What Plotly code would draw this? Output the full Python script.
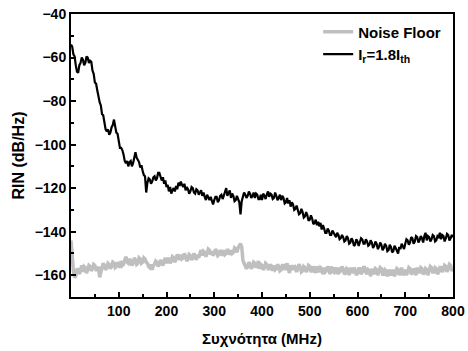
import plotly.graph_objects as go

# frequency grid, MHz (2.5 MHz spacing, 0..800)
freq = [i * 2.5 for i in range(321)]

rin_laser = [
    -54.0, -55.0, -58.5, -59.5, -63.5, -66.5, -67.0, -63.5, -62.5, -60.0,
    -61.0, -63.5, -62.5, -59.5, -60.0, -62.5, -61.5, -62.0, -66.0, -67.5,
    -71.5, -72.0, -75.0, -78.5, -80.5, -82.0, -86.0, -86.5, -89.5, -93.0,
    -94.0, -93.0, -95.5, -94.5, -92.0, -91.0, -88.5, -92.5, -94.5, -95.0,
    -98.0, -101.5, -101.5, -102.5, -104.5, -107.5, -108.5, -107.5, -110.0, -108.0,
    -107.5, -110.0, -108.5, -105.0, -103.5, -106.0, -107.0, -108.0, -110.5, -109.5,
    -112.0, -114.0, -114.5, -122.0, -117.5, -115.5, -116.0, -118.0, -117.0, -115.0,
    -114.5, -116.5, -115.5, -113.0, -113.0, -115.5, -116.5, -115.0, -118.0, -116.5,
    -119.5, -118.5, -121.5, -119.5, -122.5, -121.0, -120.0, -121.5, -119.0, -120.5,
    -117.5, -119.0, -117.0, -118.5, -119.5, -118.0, -121.0, -119.5, -120.5, -122.5,
    -121.5, -119.5, -120.0, -122.0, -122.5, -120.5, -121.0, -123.0, -122.0, -121.0,
    -123.5, -122.0, -124.0, -125.5, -123.0, -124.5, -125.5, -124.0, -126.5, -127.5,
    -125.5, -124.0, -124.0, -126.5, -125.5, -123.5, -123.0, -125.0, -123.5, -122.0,
    -120.0, -123.5, -122.5, -121.0, -124.5, -122.5, -123.5, -126.0, -125.5, -123.5,
    -125.0, -126.5, -132.0, -126.0, -124.0, -122.0, -123.0, -124.5, -123.5, -121.5,
    -122.5, -124.5, -123.5, -122.0, -124.5, -122.5, -123.0, -125.0, -125.0, -123.0,
    -125.5, -122.5, -123.5, -125.0, -123.0, -121.5, -124.0, -122.5, -123.0, -125.0,
    -124.5, -122.0, -123.5, -125.5, -124.5, -123.0, -125.5, -123.5, -124.5, -127.0,
    -126.5, -124.5, -127.0, -125.5, -128.5, -126.5, -127.5, -130.0, -129.5, -128.0,
    -130.0, -132.0, -131.5, -129.5, -131.0, -133.5, -133.0, -131.0, -132.5, -135.0,
    -134.5, -132.5, -134.0, -136.5, -136.0, -134.5, -137.0, -135.5, -137.5, -136.0,
    -139.0, -137.0, -138.5, -140.5, -140.5, -138.5, -139.5, -141.5, -141.5, -139.5,
    -140.5, -142.0, -142.5, -140.5, -141.5, -143.5, -143.0, -141.5, -142.5, -144.5,
    -144.0, -142.0, -143.0, -145.5, -145.0, -143.0, -144.0, -146.5, -146.0, -143.5,
    -144.5, -146.5, -145.0, -143.0, -143.5, -145.5, -145.5, -143.5, -144.5, -146.5,
    -146.0, -144.0, -145.0, -147.5, -146.5, -144.5, -145.5, -148.0, -147.0, -145.0,
    -146.0, -148.5, -147.5, -145.5, -146.5, -149.0, -148.5, -146.0, -147.0, -149.5,
    -149.0, -146.5, -147.5, -148.5, -150.0, -147.0, -148.0, -145.5, -146.5, -148.0,
    -145.5, -143.5, -144.0, -146.0, -145.0, -142.5, -143.0, -145.5, -144.5, -142.0,
    -142.5, -145.0, -144.0, -142.0, -143.0, -145.0, -142.0, -140.5, -144.0, -142.0,
    -142.5, -144.5, -143.5, -141.5, -142.0, -144.5, -144.0, -142.0, -142.5, -140.5,
    -143.5, -141.5, -142.0, -144.5, -143.0, -141.0, -141.5, -144.0, -143.0, -141.5,
    -142.5,
]

rin_noise_floor = [
    -144.0, -152.0, -158.0, -161.0, -160.5, -157.0, -157.5, -159.5, -157.0, -155.5,
    -158.5, -156.0, -156.5, -159.0, -157.5, -155.5, -156.0, -158.0, -157.0, -155.0,
    -155.5, -157.5, -157.5, -156.0, -161.0, -157.5, -156.5, -154.5, -155.5, -157.5,
    -156.5, -154.5, -155.0, -157.0, -156.0, -154.0, -154.5, -156.5, -156.0, -154.0,
    -155.0, -156.5, -153.5, -155.5, -155.0, -153.0, -151.5, -154.0, -154.5, -152.5,
    -153.5, -155.5, -154.5, -152.0, -153.0, -155.0, -154.5, -152.0, -152.5, -154.5,
    -154.0, -152.0, -152.5, -154.0, -154.5, -156.0, -156.5, -155.0, -157.5, -155.5,
    -155.0, -153.5, -154.0, -156.0, -155.0, -153.0, -154.0, -155.5, -153.5, -152.0,
    -154.5, -152.5, -152.5, -154.5, -153.5, -151.5, -152.0, -154.0, -152.5, -150.5,
    -151.5, -153.0, -150.5, -152.5, -152.0, -150.0, -151.5, -153.5, -152.5, -150.5,
    -151.0, -153.0, -152.0, -150.0, -151.5, -153.0, -150.5, -152.0, -150.0, -148.5,
    -151.0, -149.0, -149.5, -151.5, -150.0, -148.0, -148.5, -150.5, -149.0, -151.0,
    -150.0, -148.0, -149.0, -151.0, -150.5, -148.5, -149.5, -151.0, -148.5, -150.5,
    -150.0, -148.0, -149.0, -150.5, -148.5, -150.0, -149.5, -147.5, -148.0, -149.5,
    -147.5, -146.5, -145.5, -147.0, -153.0, -154.5, -155.5, -157.0, -156.0, -154.0,
    -155.0, -157.0, -156.0, -154.0, -154.5, -156.5, -155.5, -153.5, -157.0, -155.0,
    -155.5, -157.5, -156.5, -154.5, -155.0, -157.0, -157.0, -155.0, -156.0, -158.0,
    -155.5, -157.5, -157.0, -155.0, -156.0, -158.0, -157.5, -155.5, -155.5, -157.5,
    -156.5, -154.5, -157.0, -159.0, -155.5, -157.0, -157.5, -155.5, -156.5, -158.5,
    -157.0, -155.0, -156.0, -158.5, -158.0, -156.0, -156.5, -158.5, -157.5, -155.5,
    -156.0, -158.0, -158.0, -156.0, -157.0, -159.0, -156.0, -158.0, -158.5, -156.5,
    -157.0, -159.5, -156.5, -158.5, -158.0, -156.0, -157.0, -159.5, -156.0, -158.0,
    -158.5, -156.5, -157.5, -159.5, -156.5, -158.5, -158.0, -156.0, -157.0, -159.5,
    -159.0, -157.0, -157.5, -160.0, -156.5, -158.5, -158.5, -156.5, -157.5, -160.0,
    -159.0, -157.0, -157.0, -159.5, -158.5, -156.5, -156.5, -158.5, -159.5, -157.5,
    -158.0, -160.5, -157.0, -159.0, -159.0, -157.0, -157.5, -160.0, -158.5, -156.5,
    -157.0, -159.5, -159.5, -157.5, -158.0, -160.5, -157.5, -159.0, -160.0, -158.0,
    -158.0, -160.5, -159.0, -157.0, -157.5, -160.0, -158.5, -156.5, -160.0, -158.0,
    -157.5, -160.0, -158.5, -156.5, -157.0, -159.5, -159.0, -157.0, -158.0, -160.0,
    -156.5, -158.5, -158.5, -156.5, -157.0, -159.5, -159.0, -157.0, -157.5, -160.0,
    -158.0, -156.0, -156.5, -158.5, -158.5, -156.5, -157.0, -159.5, -158.5, -156.5,
    -156.5, -158.5, -157.5, -155.5, -156.0, -158.5, -157.0, -155.0, -155.5, -158.0,
    -157.0,
]

x_tick_vals = [100, 200, 300, 400, 500, 600, 700, 800]
y_tick_vals = [-160, -140, -120, -100, -80, -60, -40]

font_family = "Liberation Sans, Arial, sans-serif"

fig = go.Figure()
fig.add_trace(go.Scatter(
    x=freq, y=rin_noise_floor, mode="lines", name="<b>Noise Floor</b>",
    line=dict(color="#bfbfbf", width=3.5),
))
fig.add_trace(go.Scatter(
    x=freq, y=rin_laser, mode="lines", name="<b>I<sub>r</sub>=1.8I<sub>th</sub></b>",
    line=dict(color="#000000", width=2.2),
))

axis_common = dict(
    showline=True, linecolor="black", linewidth=2, mirror=True,
    showgrid=False, zeroline=False, automargin=False,
    ticks="inside", ticklen=5, tickwidth=1.5, tickcolor="black",
    tickfont=dict(family=font_family, size=14, color="black", weight="bold"),
)

fig.update_layout(
    width=468, height=351,
    margin=dict(l=71, r=15, t=14, b=54, autoexpand=False),
    paper_bgcolor="white", plot_bgcolor="white",
    font=dict(family=font_family, color="black"),
    showlegend=True,
    legend=dict(
        x=0.647, y=0.995, xanchor="left", yanchor="top",
        bgcolor="rgba(0,0,0,0)", borderwidth=0,
        font=dict(family=font_family, size=15, color="black", weight="bold"),
        tracegroupgap=0, itemwidth=30,
    ),
    xaxis=dict(
        range=[0, 800], tickvals=x_tick_vals,
        minor=dict(ticks="inside", dtick=50, ticklen=3, tickwidth=1.5, tickcolor="black"),
        title=dict(text="Συχνότητα (MHz)", standoff=16,
                   font=dict(family=font_family, size=15, color="black", weight="bold")),
        **axis_common,
    ),
    yaxis=dict(
        range=[-170, -40], tickvals=y_tick_vals,
        minor=dict(ticks="inside", dtick=10, ticklen=3, tickwidth=1.5, tickcolor="black"),
        title=dict(text="RIN (dB/Hz)", standoff=6,
                   font=dict(family=font_family, size=16, color="black", weight="bold")),
        **axis_common,
    ),
)

fig.write_html("out.html")
